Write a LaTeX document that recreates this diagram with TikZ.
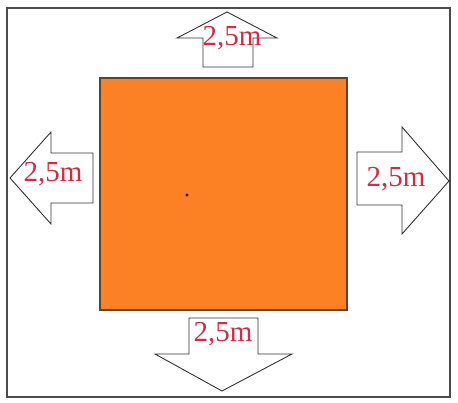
\documentclass[tikz,border=0pt]{standalone}
\usepackage{fontspec}
\setmainfont{Liberation Serif}
\definecolor{sqorange}{RGB}{252,128,36}
\definecolor{sqborder}{RGB}{95,65,50}
\definecolor{lblred}{RGB}{212,42,66}
\tikzset{
  frameline/.style={draw=black!70, line width=1.6pt},
  arrowshape/.style={draw=black!80, line width=0.9pt, fill=white, line join=miter},
  lbl/.style={text=lblred, font=\fontsize{29}{32}\selectfont, inner sep=0pt}
}
\begin{document}
\begin{tikzpicture}[x=1pt,y=-1pt]
\useasboundingbox (0,0) rectangle (458,403);
\draw[frameline] (7,8) rectangle (450,397);
\draw[draw=sqborder, line width=1.4pt, fill=sqorange] (100,78) rectangle (347,310);
\fill[black!80!red] (187,195) circle (1.7pt);
% top arrow
\draw[arrowshape] (227,12) -- (277,38) -- (253,38) -- (253,67) -- (203,67) -- (203,38) -- (177,38) -- cycle;
% left arrow
\draw[arrowshape] (10,178) -- (51,132) -- (51,153) -- (93,153) -- (93,203) -- (51,203) -- (51,224) -- cycle;
% right arrow
\draw[arrowshape] (449,181) -- (402,127) -- (402,152) -- (357,152) -- (357,205) -- (402,205) -- (402,234) -- cycle;
% bottom arrow
\draw[arrowshape] (222,391) -- (292,354) -- (258,354) -- (258,318) -- (189,318) -- (189,354) -- (155,354) -- cycle;
\node[lbl] (ltop) at (232,38) {2,5m};
\node[lbl] (lleft) at (53,174) {2,5m};
\node[lbl] (lright) at (396,179) {2,5m};
\node[lbl] (lbottom) at (223,334) {2,5m};
\end{tikzpicture}
\end{document}
